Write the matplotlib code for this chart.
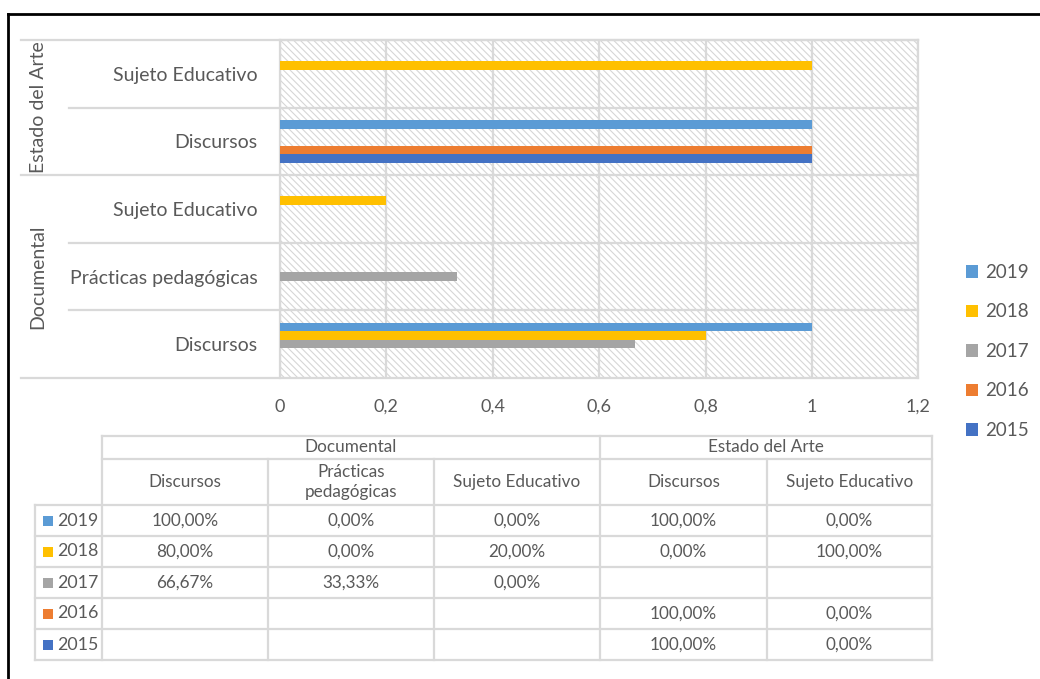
import numpy as np
import matplotlib
matplotlib.use("Agg")
import matplotlib.pyplot as plt
from matplotlib.patches import Rectangle
from matplotlib.lines import Line2D
import matplotlib.transforms as mtransforms

plt.rcParams['font.family'] = ['Lato', 'DejaVu Sans']
plt.rcParams['hatch.linewidth'] = 0.8

nan = np.nan
years = ["2015", "2016", "2017", "2018", "2019"]
groups = ["Documental", "Estado del Arte"]
group_of = [0, 0, 0, 1, 1]
subcats = ["Discursos", "Prácticas pedagógicas", "Sujeto Educativo",
           "Discursos", "Sujeto Educativo"]
v2015 = [nan, nan, nan, 1.0, 0.0]
v2016 = [nan, nan, nan, 1.0, 0.0]
v2017 = [0.6667, 0.3333, 0.0, nan, nan]
v2018 = [0.8, 0.0, 0.2, 0.0, 1.0]
v2019 = [1.0, 0.0, 0.0, 1.0, 0.0]
series = [v2015, v2016, v2017, v2018, v2019]
colors = ["#4472C4", "#ED7D31", "#A5A5A5", "#FFC000", "#5B9BD5"]
xticks = [0, 0.2, 0.4, 0.6, 0.8, 1.0, 1.2]

TXT = "#595959"
GRID = "#d9d9d9"
W, H = 1040, 679

fig = plt.figure(figsize=(W / 100, H / 100), dpi=100)

def fx(px):
    return px / W

def fy(py):
    return 1 - py / H

# main chart
ax = fig.add_axes([fx(280), fy(378), fx(918.4) - fx(280), fy(40) - fy(378)])
ax.set_xlim(0, 1.2)
ax.set_ylim(-0.5, len(subcats) - 0.5)
ax.add_patch(Rectangle((0, 0), 1, 1, transform=ax.transAxes, facecolor="white",
                       edgecolor="#d6d6d6", hatch="\\" * 5, linewidth=0, zorder=0))
ypos = np.arange(len(subcats))
bh = 0.127
handles = []
for j, (vals, c, yr) in enumerate(zip(series, colors, years)):
    b = ax.barh(ypos + (j - 2) * bh, np.nan_to_num(vals), height=bh, color=c,
                label=yr, zorder=3, linewidth=0)
    handles.append(b)

ax.set_xticks(xticks)
ax.set_xticklabels([f"{t:g}".replace(".", ",") for t in xticks], fontsize=13, color=TXT)
ax.set_yticks(ypos)
ax.set_yticklabels(subcats, fontsize=14, color=TXT)
ax.tick_params(axis="x", length=0, pad=15)
ax.tick_params(axis="y", length=0, pad=16)
ax.grid(axis="x", color=GRID, linewidth=1.6, zorder=1)
for s in ax.spines.values():
    s.set_color(GRID)
    s.set_linewidth(1.6)
ax.spines["bottom"].set_visible(False)
ax.set_axisbelow(True)

# category separators on the left
trans = mtransforms.blended_transform_factory(ax.transAxes, ax.transData)
x_grp = (21 - 280) / (918.4 - 280)
x_sub = (69 - 280) / (918.4 - 280)
for k in range(len(subcats) + 1):
    yb = k - 0.5
    is_grp = k == 0 or k == len(subcats) or group_of[k] != group_of[k - 1]
    ax.add_line(Line2D([x_grp if is_grp else x_sub, 1], [yb, yb], transform=trans,
                       color=GRID, linewidth=1.6, clip_on=False, zorder=2))
for g, name in enumerate(groups):
    idx = [i for i, gg in enumerate(group_of) if gg == g]
    yc = (min(idx) + max(idx)) / 2
    ax.text((38 - 280) / (918.4 - 280), yc, name, transform=trans, rotation=90,
            ha="center", va="center", fontsize=14, color=TXT)

# legend
leg = fig.legend(handles[::-1], years[::-1], loc="upper left",
                 bbox_to_anchor=(fx(949), fy(247)), frameon=False, fontsize=13.5,
                 handlelength=0.65, handleheight=0.65, handletextpad=0.35,
                 labelspacing=1.2, labelcolor=TXT)

# data table and outer border
deco = fig.add_axes([0, 0, 1, 1], zorder=-1)
deco.set_xlim(0, W)
deco.set_ylim(H, 0)
deco.axis("off")
deco.plot([8, 8], [14, H + 5], color="black", linewidth=2)
deco.plot([8, W + 5], [14, 14], color="black", linewidth=2)

col_x = [102, 268, 434, 600, 767, 932]
row_y = [505, 536, 567, 598, 629, 660]
lab_x0 = 35
top_y, mid_y = 436, 459
lw = 1.6
# horizontal lines
deco.plot([col_x[0], col_x[-1]], [top_y, top_y], color=GRID, lw=lw)
deco.plot([col_x[0], col_x[-1]], [mid_y, mid_y], color=GRID, lw=lw)
for y in row_y:
    deco.plot([lab_x0, col_x[-1]], [y, y], color=GRID, lw=lw)
# vertical lines
deco.plot([lab_x0, lab_x0], [row_y[0], row_y[-1]], color=GRID, lw=lw)
for i, x in enumerate(col_x):
    y0 = top_y if x in (col_x[0], col_x[3], col_x[-1]) else mid_y
    deco.plot([x, x], [y0, row_y[-1]], color=GRID, lw=lw)

TFS = 12.3
# group headers
for g, name in enumerate(groups):
    idx = [i for i, gg in enumerate(group_of) if gg == g]
    xc = (col_x[min(idx)] + col_x[max(idx) + 1]) / 2
    deco.text(xc, (top_y + mid_y) / 2, name, ha="center", va="center",
              fontsize=TFS, color=TXT)
for i, name in enumerate(subcats):
    label = name.replace(" ", "\n") if name.startswith("Prácticas") else name
    deco.text((col_x[i] + col_x[i + 1]) / 2, (mid_y + row_y[0]) / 2, label,
              ha="center", va="center", fontsize=TFS, color=TXT, linespacing=1.3)

def fmt(v):
    if np.isnan(v):
        return ""
    return f"{v * 100:.2f}%".replace(".", ",")

for r, j in enumerate(range(len(years) - 1, -1, -1)):
    yc = (row_y[r] + row_y[r + 1]) / 2
    deco.add_patch(Rectangle((43, yc - 5), 10, 10, color=colors[j], lw=0))
    deco.text(57, yc, years[j], ha="left", va="center", fontsize=TFS + 0.5, color=TXT)
    for i, v in enumerate(series[j]):
        deco.text((col_x[i] + col_x[i + 1]) / 2, yc, fmt(v), ha="center",
                  va="center", fontsize=TFS, color=TXT)

fig.savefig("out.png", dpi=100, facecolor="white")
